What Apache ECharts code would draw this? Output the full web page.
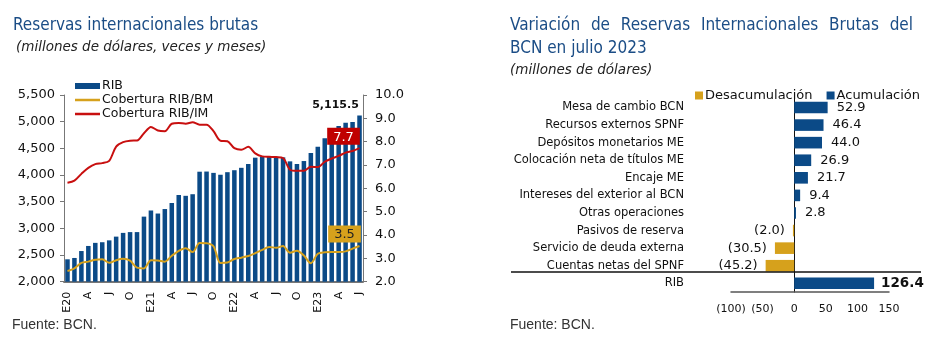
<!DOCTYPE html>
<html><head><meta charset="utf-8">
<script src="https://cdn.jsdelivr.net/npm/echarts@6/dist/echarts.min.js"></script>
<style>html,body{margin:0;padding:0;background:#fff}#c{width:937px;height:362px}</style>
</head><body><div id="c"></div>
<script>
// ---------- Left chart data ----------
const monthLabels = ['E20','','','A','','','J','','','O','','',
  'E21','','','A','','','J','','','O','','',
  'E22','','','A','','','J','','','O','','',
  'E23','','','A','','','J'];
const rib = [2420, 2445, 2575, 2670, 2728, 2740, 2775, 2845, 2915, 2930, 2930, 3220,
  3335, 3278, 3362, 3475, 3625, 3610, 3640, 4062, 4065, 4040, 4005, 4053,
  4090, 4135, 4206, 4325, 4348, 4350, 4344, 4331, 4256, 4206, 4262, 4413,
  4531, 4688, 4831, 4919, 4981, 4994, 5115.5];
const cobBM = [2.46, 2.57, 2.81, 2.86, 2.94, 2.96, 2.81, 2.92, 2.98, 2.90, 2.60, 2.57,
  2.92, 2.91, 2.86, 3.11, 3.32, 3.43, 3.27, 3.66, 3.65, 3.52, 2.80, 2.82,
  2.97, 3.03, 3.10, 3.22, 3.36, 3.49, 3.45, 3.53, 3.24, 3.33, 3.12, 2.79,
  3.20, 3.26, 3.27, 3.27, 3.30, 3.42, 3.53];
const cobIM = [6.24, 6.33, 6.62, 6.88, 7.04, 7.08, 7.18, 7.79, 7.98, 8.04, 8.05, 8.36,
  8.63, 8.48, 8.45, 8.77, 8.80, 8.77, 8.83, 8.73, 8.73, 8.45, 8.04, 8.02,
  7.72, 7.65, 7.78, 7.50, 7.37, 7.35, 7.34, 7.30, 6.80, 6.75, 6.75, 6.93,
  6.91, 7.14, 7.28, 7.39, 7.53, 7.60, 7.72];
const seriesNamesLeft = ['RIB', 'Cobertura RIB/BM', 'Cobertura RIB/IM'];

// ---------- Right chart data ----------
const flowCats = ['Mesa de cambio BCN', 'Recursos externos SPNF', 'Depósitos monetarios ME',
  'Colocación neta de títulos ME', 'Encaje ME', 'Intereses del exterior al BCN',
  'Otras operaciones', 'Pasivos de reserva', 'Servicio de deuda externa',
  'Cuentas netas del SPNF', 'RIB'];
const flowVals = [52.9, 46.4, 44.0, 26.9, 21.7, 9.4, 2.8, -2.0, -30.5, -45.2, 126.4];
const seriesNamesRight = ['Desacumulación', 'Acumulación'];

// ---------- Styles ----------
const BLUE = '#0b4a87';
const GOLD = '#d6a11c';
const RED = '#c80f0f';
const TITLE = '#1b4d86';
const FONT = "'DejaVu Sans', Verdana, sans-serif";
const TFONT = "'Liberation Sans Narrow', 'DejaVu Sans Condensed', 'Liberation Sans', sans-serif";

const fmtNeg = v => v < 0 ? '(' + Math.abs(v).toFixed(1) + ')' : v.toFixed(1);

function justified(text, x0, x1, yMid, font, color) {
  const cv = document.createElement('canvas').getContext('2d');
  cv.font = font;
  const words = text.split(' ');
  const widths = words.map(w => cv.measureText(w).width);
  const total = widths.reduce((a, b) => a + b, 0);
  const gap = (x1 - x0 - total) / (words.length - 1);
  let x = x0;
  return words.map((w, i) => {
    const el = {type: 'text', x: x, y: yMid,
      style: {text: w, font: font, fill: color, textVerticalAlign: 'middle'}};
    x += widths[i] + gap;
    return el;
  });
}

const titleFont = "17px " + TFONT;
const graphics = [
  {type: 'text', x: 13, y: 26, style: {text: 'Reservas internacionales brutas', font: titleFont, fill: TITLE, textVerticalAlign: 'middle'}},
  {type: 'text', x: 16, y: 47, style: {text: '(millones de dólares, veces y meses)', font: "italic 13.5px " + FONT, fill: '#222', textVerticalAlign: 'middle'}},
  {type: 'text', x: 12, y: 325, style: {text: 'Fuente: BCN.', font: "14px 'Liberation Sans', sans-serif", fill: '#333', textVerticalAlign: 'middle'}},
  ...justified('Variación de Reservas Internacionales Brutas del', 510, 913, 26, titleFont, TITLE),
  {type: 'text', x: 510, y: 49, style: {text: 'BCN en julio 2023', font: titleFont, fill: TITLE, textVerticalAlign: 'middle'}},
  {type: 'text', x: 510, y: 70, style: {text: '(millones de dólares)', font: "italic 13.5px " + FONT, fill: '#222', textVerticalAlign: 'middle'}},
  {type: 'text', x: 510, y: 325, style: {text: 'Fuente: BCN.', font: "14px 'Liberation Sans', sans-serif", fill: '#333', textVerticalAlign: 'middle'}},
  {type: 'line', shape: {x1: 511, y1: 272, x2: 921, y2: 272}, style: {stroke: '#111', lineWidth: 1.5}, z: 100}
];

const last = rib.length - 1;
const ribData = rib.map((v, i) => i === last ? {value: v, label: {show: true, position: 'top', distance: 5, offset: [-24, 0],
  formatter: p => p.value.toLocaleString('en-US', {minimumFractionDigits: 1}), fontFamily: FONT, fontWeight: 'bold', fontSize: 11, color: '#111'}} : v);

function endBox(arr, bg, fg, dx) {
  return {symbol: 'circle', symbolSize: 1, itemStyle: {color: 'rgba(0,0,0,0)'}, silent: true, animation: false,
    data: [{coord: [arr.length - 1, arr[arr.length - 1]], value: arr[arr.length - 1]}],
    label: {show: true, position: 'top', distance: 3, offset: [dx, 0], formatter: p => p.value.toFixed(1),
      backgroundColor: bg, color: fg, padding: [3, 6, 1, 6], fontSize: 13, fontFamily: FONT}};
}

const lineIcon = 'path://M0,0 L25,0 L25,2.5 L0,2.5 Z';

const ribIndex = flowCats.indexOf('RIB');
function flowSeriesData(pred) {
  return flowVals.map((v, i) => {
    if (!pred(v)) return '-';
    if (i === ribIndex) return {value: v, label: {fontWeight: 'bold', fontSize: 13.5, color: '#111', distance: 7}};
    return v;
  });
}

const chart = echarts.init(document.getElementById('c'), null, {renderer: 'canvas'});
chart.setOption({
  animation: false,
  textStyle: {fontFamily: FONT},
  graphic: graphics,
  legend: [
    {data: [{name: 'RIB', icon: 'rect'}, {name: 'Cobertura RIB/BM', icon: lineIcon}, {name: 'Cobertura RIB/IM', icon: lineIcon}],
     orient: 'vertical', left: 70, top: 74, itemWidth: 25, itemHeight: 6, itemGap: 0,
     textStyle: {fontSize: 12.5, color: '#111', padding: [0, 0, 0, -3], lineHeight: 14}},
    {data: seriesNamesRight, left: 690, top: 84, itemWidth: 8, itemHeight: 8, itemGap: 14, icon: 'rect',
     textStyle: {fontSize: 13, color: '#111', padding: [0, 0, 0, -3]}}
  ],
  grid: [
    {left: 64, top: 95, width: 299, height: 186.7},
    {left: 731, top: 98.7, width: 158, height: 193.4}
  ],
  xAxis: [
    {gridIndex: 0, type: 'category', data: monthLabels.map((m, i) => i),
     axisLine: {lineStyle: {color: '#777', width: 2}},
     axisTick: {interval: 0, length: 5, lineStyle: {color: '#777'}},
     axisLabel: {interval: 0, rotate: 90, fontSize: 11, color: '#111', margin: 10,
       formatter: v => monthLabels[v]}},
    {gridIndex: 1, type: 'value', min: -100, max: 150, interval: 50,
     axisLine: {show: true, onZero: false, lineStyle: {color: '#555', width: 1.5}},
     axisTick: {show: false}, splitLine: {show: false},
     axisLabel: {fontSize: 11, color: '#111', margin: 12, formatter: v => v < 0 ? '(' + (-v) + ')' : String(v)}}
  ],
  yAxis: [
    {gridIndex: 0, type: 'value', min: 2000, max: 5500, interval: 500, position: 'left',
     axisLine: {show: true, lineStyle: {color: '#777'}}, axisTick: {show: true, length: 4, lineStyle: {color: '#777'}},
     splitLine: {show: false},
     axisLabel: {fontSize: 13, color: '#111', margin: 9, formatter: v => v.toLocaleString('en-US')}},
    {gridIndex: 0, type: 'value', min: 2, max: 10, interval: 1, position: 'right',
     axisLine: {show: true, lineStyle: {color: '#777'}}, axisTick: {show: true, length: 4, lineStyle: {color: '#777'}},
     splitLine: {show: false},
     axisLabel: {fontSize: 13, color: '#111', margin: 12, formatter: v => v.toFixed(1)}},
    {gridIndex: 1, type: 'category', inverse: true, data: flowCats,
     axisLine: {onZero: true, lineStyle: {color: '#111'}},
     axisTick: {length: 4, lineStyle: {color: '#666'}},
     axisLabel: {fontSize: 11.5, color: '#111', margin: 47}}
  ],
  series: [
    {name: 'RIB', type: 'bar', xAxisIndex: 0, yAxisIndex: 0, data: ribData, barCategoryGap: '35%',
     itemStyle: {color: BLUE}, z: 2},
    {name: 'Cobertura RIB/BM', type: 'line', xAxisIndex: 0, yAxisIndex: 1, data: cobBM, symbol: 'none',
     smooth: 0.3, lineStyle: {color: GOLD, width: 2}, itemStyle: {color: GOLD}, z: 4,
     markPoint: endBox(cobBM, GOLD, '#222', -15)},
    {name: 'Cobertura RIB/IM', type: 'line', xAxisIndex: 0, yAxisIndex: 1, data: cobIM, symbol: 'none',
     smooth: 0.3, lineStyle: {color: RED, width: 2}, itemStyle: {color: RED}, z: 4,
     markPoint: endBox(cobIM, '#c00000', '#fff', -16)},
    {name: 'Desacumulación', type: 'bar', xAxisIndex: 1, yAxisIndex: 2, data: flowSeriesData(v => v < 0),
     barCategoryGap: '34%', barGap: '-100%', itemStyle: {color: GOLD},
     label: {show: true, position: 'left', distance: 8, fontSize: 13, color: '#111', formatter: p => fmtNeg(p.value)}},
    {name: 'Acumulación', type: 'bar', xAxisIndex: 1, yAxisIndex: 2, data: flowSeriesData(v => v >= 0),
     barCategoryGap: '34%', barGap: '-100%', itemStyle: {color: BLUE},
     label: {show: true, position: 'right', distance: 9, fontSize: 13, color: '#111', formatter: p => fmtNeg(p.value)}}
  ]
});
</script></body></html>
